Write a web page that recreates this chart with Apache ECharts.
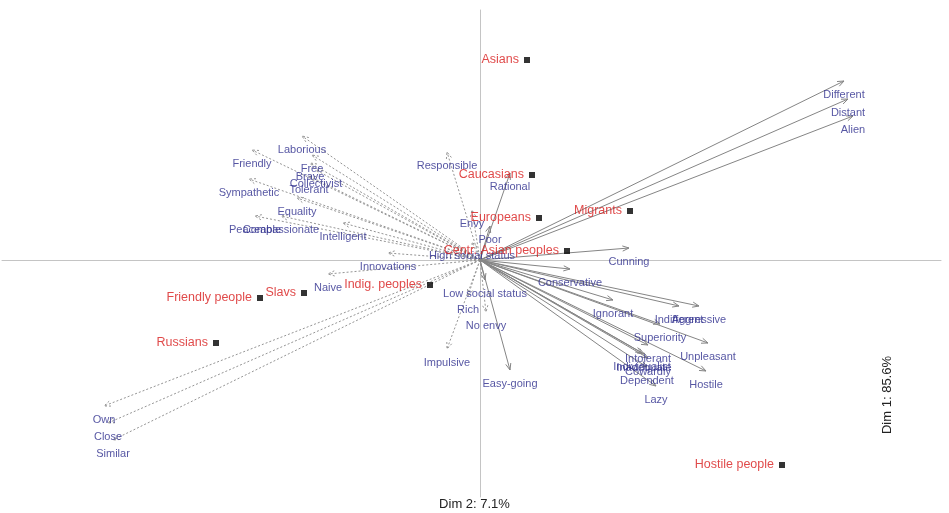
<!DOCTYPE html>
<html>
<head>
<meta charset="utf-8">
<script src="https://cdn.jsdelivr.net/npm/echarts@6/dist/echarts.min.js"></script>
<style>
  html, body { margin: 0; padding: 0; background: #ffffff; }
  #chart { width: 949px; height: 513px; }
</style>
</head>
<body>
<div id="chart"></div>
<script>
// Row points: groups of people (Dim 1 horizontal, Dim 2 vertical)
const groupNames = ['Asians', 'Caucasians', 'Europeans', 'Migrants', 'Centr. Asian peoples',
  'Indig. peoples', 'Slavs', 'Friendly people', 'Russians', 'Hostile people'];
const groupX = [0.47, 0.52, 0.59, 1.50, 0.87, -0.50, -1.76, -2.20, -2.64, 3.02];
const groupY = [2.00, 0.85, 0.42, 0.49, 0.09, -0.25, -0.33, -0.38, -0.83, -2.05];

// Column points drawn as solid arrows
const solidTerms = ['Different', 'Distant', 'Alien', 'Cunning', 'Conservative', 'Ignorant',
  'Indifferent', 'Aggressive', 'Superiority', 'Unpleasant', 'Hostile', 'Intolerant',
  'Individualist', 'Inadequate', 'Cowardly', 'Dependent', 'Lazy', 'Rational', 'Poor',
  'Easy-going', 'Low social status'];
const solidX = [3.64, 3.68, 3.73, 1.49, 0.90, 1.33, 1.99, 2.19, 1.80, 2.28, 2.26, 1.68,
  1.62, 1.64, 1.68, 1.67, 1.76, 0.30, 0.10, 0.30, 0.05];
const solidY = [1.79, 1.61, 1.44, 0.12, -0.09, -0.40, -0.46, -0.46, -0.64, -0.83, -1.11, -0.85,
  -0.93, -0.94, -0.98, -1.07, -1.26, 0.87, 0.34, -1.10, -0.20];

// Column points drawn as dotted arrows
const dashedTerms = ['Laborious', 'Friendly', 'Free', 'Brave', 'Collectivist', 'Tolerant',
  'Sympathetic', 'Equality', 'Peaceable', 'Compassionate', 'Intelligent', 'Innovations',
  'Naive', 'Own', 'Close', 'Similar', 'Responsible', 'Envy', 'High social status',
  'Impulsive', 'Rich', 'No envy'];
const dashedX = [-1.78, -2.28, -1.68, -1.70, -1.64, -1.71, -2.31, -1.83, -2.25, -1.99, -1.37,
  -0.92, -1.52, -3.76, -3.72, -3.67, -0.33, -0.08, -0.08, -0.33, -0.12, 0.06];
const dashedY = [1.24, 1.10, 1.05, 0.97, 0.90, 0.84, 0.81, 0.62, 0.44, 0.44, 0.37,
  0.07, -0.14, -1.46, -1.63, -1.80, 1.08, 0.50, 0.18, -0.89, -0.36, -0.52];

const xTitle = 'Dim 2: 7.1%';
const yTitle = 'Dim 1: 85.6%';

const FONT = '"Liberation Sans", Arial, sans-serif';
const BLUE = '#2c2c8c';
const RED = '#d81c1c';

function arrowSeries(xs, ys, color, dashed) {
  return {
    type: 'custom',
    silent: true,
    z: 2,
    encode: { x: 0, y: 1 },
    data: xs.map((x, i) => [x, ys[i]]),
    renderItem(params, api) {
      const p0 = api.coord([0, 0]);
      const p1 = api.coord([api.value(0), api.value(1)]);
      const ang = Math.atan2(p1[1] - p0[1], p1[0] - p0[0]);
      const L = 7, a = 0.38;
      const h1 = [p1[0] - L * Math.cos(ang - a), p1[1] - L * Math.sin(ang - a)];
      const h2 = [p1[0] - L * Math.cos(ang + a), p1[1] - L * Math.sin(ang + a)];
      const style = { stroke: color, lineWidth: 1, fill: null, lineDash: dashed ? [2, 2] : null };
      return {
        type: 'group',
        children: [
          { type: 'line', shape: { x1: p0[0], y1: p0[1], x2: p1[0], y2: p1[1] }, style: style },
          { type: 'polyline', shape: { points: [h1, p1, h2] }, style: style }
        ]
      };
    }
  };
}

function termLabels(names, xs, ys) {
  return {
    type: 'scatter',
    silent: true,
    z: 4,
    symbolSize: 1,
    itemStyle: { color: 'rgba(0,0,0,0)' },
    data: names.map((n, i) => ({ name: n, value: [xs[i], ys[i]] })),
    label: {
      show: true, position: 'bottom', distance: 8, formatter: '{b}',
      color: BLUE, fontSize: 11, fontFamily: FONT
    }
  };
}

const chart = echarts.init(document.getElementById('chart'), null, { renderer: 'canvas' });
chart.setOption({
  backgroundColor: '#ffffff',
  animation: false,
  grid: { left: 2, right: 8, top: 10, bottom: 16 },
  xAxis: {
    type: 'value', min: -4.78, max: 4.61,
    axisLine: { show: true, onZero: true, lineStyle: { color: '#c4c4c4', width: 1 } },
    axisTick: { show: false }, axisLabel: { show: false }, splitLine: { show: false }
  },
  yAxis: {
    type: 'value', min: -2.37, max: 2.50,
    axisLine: { show: true, onZero: true, lineStyle: { color: '#c4c4c4', width: 1 } },
    axisTick: { show: false }, axisLabel: { show: false }, splitLine: { show: false }
  },
  graphic: [
    { type: 'text', left: 'center', top: 498,
      style: { text: xTitle, fill: '#222', font: '13px ' + FONT } },
    { type: 'text', x: 887, y: 395, rotation: Math.PI / 2,
      style: { text: yTitle, fill: '#222', font: '13px ' + FONT, textAlign: 'center', textVerticalAlign: 'middle' } }
  ],
  series: [
    arrowSeries(dashedX, dashedY, '#959595', true),
    arrowSeries(solidX, solidY, '#858585', false),
    termLabels(dashedTerms, dashedX, dashedY),
    termLabels(solidTerms, solidX, solidY),
    {
      type: 'scatter',
      silent: true,
      z: 5,
      symbol: 'rect',
      symbolSize: 6,
      itemStyle: { color: '#000000' },
      data: groupNames.map((n, i) => ({ name: n, value: [groupX[i], groupY[i]] })),
      label: {
        show: true, position: 'left', distance: 5, formatter: '{b}',
        color: RED, fontSize: 12.5, fontFamily: FONT
      }
    }
  ]
});
</script>
</body>
</html>
